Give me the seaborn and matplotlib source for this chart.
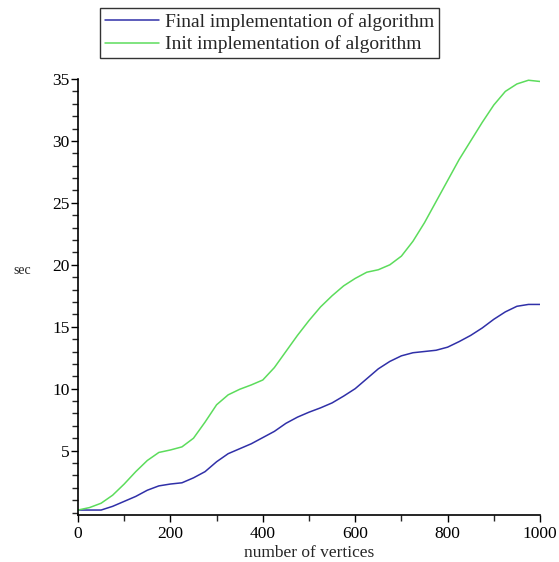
import pandas as pd
import matplotlib.pyplot as plt
import matplotlib.ticker as mticker
import seaborn as sns

# values
vertices = list(range(0, 1001, 25))

final_sec = [0.2, 0.2, 0.2, 0.5, 0.9, 1.3, 1.8, 2.15, 2.3, 2.4,
             2.8, 3.3, 4.1, 4.75, 5.15, 5.55, 6.05, 6.55, 7.2, 7.7,
             8.1, 8.45, 8.85, 9.4, 10.0, 10.8, 11.6, 12.2, 12.65, 12.9,
             13.0, 13.1, 13.35, 13.8, 14.3, 14.9, 15.6, 16.2, 16.65, 16.8,
             16.8]

init_sec = [0.2, 0.4, 0.75, 1.4, 2.3, 3.3, 4.2, 4.85, 5.05, 5.3,
            6.0, 7.3, 8.7, 9.5, 9.95, 10.3, 10.7, 11.7, 13.0, 14.3,
            15.5, 16.6, 17.5, 18.3, 18.9, 19.4, 19.6, 20.0, 20.7, 21.9,
            23.4, 25.1, 26.8, 28.5, 30.0, 31.5, 32.9, 34.0, 34.6, 34.9,
            34.8]

labels = ['Final implementation of algorithm', 'Init implementation of algorithm']
colors = ['#3030a8', '#5cdc5c']

df = pd.concat([
    pd.DataFrame({'vertices': vertices, 'sec': final_sec, 'impl': labels[0]}),
    pd.DataFrame({'vertices': vertices, 'sec': init_sec, 'impl': labels[1]}),
])

sns.set_style('ticks')
plt.rcParams['font.family'] = ['Liberation Serif', 'DejaVu Serif']

fig = plt.figure(figsize=(5.59, 5.62), dpi=100)
ax = fig.add_axes([78 / 559, 1 - 515 / 562, 462 / 559, 436 / 562])

sns.lineplot(data=df, x='vertices', y='sec', hue='impl', palette=colors,
             linewidth=1.1, ax=ax, legend=False)

ax.set_xlim(0, 1000)
ax.set_ylim(-0.2, 35)
ax.set_xticks([0, 200, 400, 600, 800, 1000])
ax.set_yticks([5, 10, 15, 20, 25, 30, 35])
ax.xaxis.set_minor_locator(mticker.MultipleLocator(100))
ax.yaxis.set_minor_locator(mticker.MultipleLocator(1))
ax.tick_params(which='major', direction='out', length=5, width=1, labelsize=12.5, colors='black', pad=1)
ax.tick_params(axis='x', which='major', pad=3)
ax.tick_params(which='minor', direction='out', length=4, width=1)
sns.despine(ax=ax)
for s in ['left', 'bottom']:
    ax.spines[s].set_color('black')
    ax.spines[s].set_linewidth(1.2)

ax.set_xlabel('number of vertices', fontsize=12.5, labelpad=2)
ax.set_ylabel('sec', fontsize=10, rotation=0, ha='center', va='center')
ax.yaxis.set_label_coords(-0.12, 0.56)

handles = [plt.Line2D([], [], color=c, linewidth=1.1) for c in colors]
leg = fig.legend(handles, labels, loc='upper left',
                 bbox_to_anchor=(100 / 559, 1 - 8 / 562),
                 fontsize=14, frameon=True, fancybox=False, handlelength=2.8,
                 handletextpad=0.3, borderpad=0.25, labelspacing=0.25,
                 borderaxespad=0)
leg.get_frame().set_edgecolor('black')
leg.get_frame().set_linewidth(1.0)

fig.savefig('out.png', dpi=100)
